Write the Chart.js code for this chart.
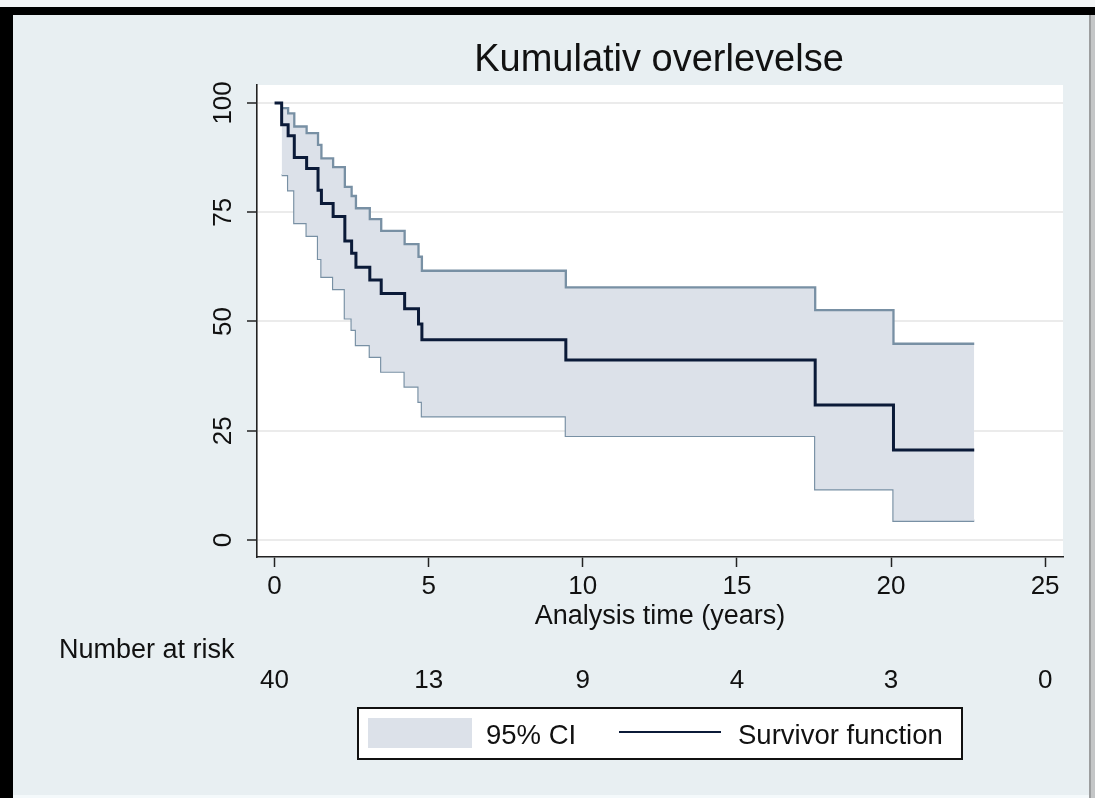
<!DOCTYPE html>
<html>
<head>
<meta charset="utf-8">
<script src="https://cdn.jsdelivr.net/npm/chart.js@4.4.1/dist/chart.umd.min.js"></script>
<style>
  html, body { margin: 0; padding: 0; background: #e8eff2; }
  #wrap { position: relative; width: 1095px; height: 798px; }
</style>
</head>
<body>
<div id="wrap"><canvas id="c" width="1095" height="798"></canvas></div>
<script>
// ---- data ----
const titleText = 'Kumulativ overlevelse';
const xTitle = 'Analysis time (years)';
const riskLabel = 'Number at risk';

const survTime  = [0, 0.23, 0.44, 0.64, 1.04, 1.41, 1.52, 1.90, 2.28, 2.50, 2.64, 3.09, 3.46, 4.22, 4.67, 4.78, 9.45, 17.54, 20.08, 22.70];
const survValue = [100, 95.0, 92.5, 87.5, 85.0, 80.0, 77.0, 74.0, 68.4, 65.6, 62.4, 59.5, 56.4, 52.9, 49.4, 45.8, 41.2, 30.9, 20.6, 20.6];

const ciTime  = [0.23, 0.44, 0.64, 1.04, 1.41, 1.52, 1.90, 2.28, 2.50, 2.64, 3.09, 3.46, 4.22, 4.67, 4.78, 9.45, 17.54, 20.08, 22.70];
const ciUpper = [98.8, 97.6, 94.6, 93.1, 90.4, 87.3, 85.3, 80.8, 78.7, 75.9, 73.4, 70.7, 67.7, 64.8, 61.6, 57.8, 52.6, 44.9, 44.9];
const ciLower = [83.5, 80.0, 72.5, 69.6, 64.3, 60.2, 57.4, 50.7, 48.1, 44.6, 41.9, 38.5, 35.1, 31.6, 28.3, 23.8, 11.6, 4.4, 4.4];

const xTicks = [0, 5, 10, 15, 20, 25];
const yTicks = [0, 25, 50, 75, 100];
const riskTimes  = [0, 5, 10, 15, 20, 25];
const riskCounts = [40, 13, 9, 4, 3, 0];

// ---- styles ----
const FONT = "'Liberation Sans', Arial, Helvetica, sans-serif";
const TEXT = '#111111';
const BG = '#e8eff2';
const CI_FILL = '#dce1e9';
const CI_LINE = '#7890a4';
const SURV_LINE = '#0b1a38';
const AXIS = '#222222';

const toXY = (xs, ys) => xs.map((x, i) => ({ x: x, y: ys[i] }));

const decorPlugin = {
  id: 'decor',
  beforeDraw(chart) {
    const ctx = chart.ctx, a = chart.chartArea;
    const W = chart.width, H = chart.height;
    ctx.save();
    ctx.fillStyle = BG; ctx.fillRect(0, 0, W, H);
    ctx.fillStyle = '#ffffff'; ctx.fillRect(a.left, a.top, a.right - a.left, a.bottom - a.top);
    // frame bands of the screenshot
    ctx.fillStyle = '#f3f5f6'; ctx.fillRect(0, 0, W, 7);
    ctx.fillStyle = '#000000'; ctx.fillRect(0, 7, W, 8);
    ctx.fillStyle = '#000000'; ctx.fillRect(0, 7, 13, H - 7);
    ctx.fillStyle = '#c4c6c7'; ctx.fillRect(1089, 15, W - 1089, H - 15);
    ctx.fillStyle = '#9c9e9f'; ctx.fillRect(1089, 15, 2, H - 15);
    ctx.fillStyle = '#f4f9fb'; ctx.fillRect(13, 795, 1076, 3);
    ctx.restore();
  },
  afterDraw(chart) {
    const ctx = chart.ctx, a = chart.chartArea;
    const xs = chart.scales.x;
    ctx.save();
    ctx.fillStyle = TEXT;
    ctx.textBaseline = 'alphabetic';
    // title
    ctx.font = '38px ' + FONT;
    ctx.textAlign = 'center';
    ctx.fillText(titleText, (a.left + a.right) / 2 - 1, 71);
    // number at risk
    ctx.font = '27px ' + FONT;
    ctx.textAlign = 'left';
    ctx.fillText(riskLabel, 59, 658);
    ctx.font = '26px ' + FONT;
    ctx.textAlign = 'center';
    riskTimes.forEach((t, i) => ctx.fillText(String(riskCounts[i]), xs.getPixelForValue(t), 688));
    // legend
    const ds = chart.data.datasets;
    ctx.fillStyle = '#ffffff';
    ctx.fillRect(358, 708, 604, 51);
    ctx.strokeStyle = '#111111'; ctx.lineWidth = 2;
    ctx.strokeRect(358, 708, 604, 51);
    ctx.fillStyle = CI_FILL;
    ctx.fillRect(368, 718, 104, 30);
    ctx.fillStyle = TEXT;
    ctx.font = '27.5px ' + FONT;
    ctx.textAlign = 'left';
    ctx.fillText(ds[1].label, 486, 744);
    ctx.strokeStyle = SURV_LINE; ctx.lineWidth = 2;
    ctx.beginPath(); ctx.moveTo(619, 732); ctx.lineTo(721, 732); ctx.stroke();
    ctx.fillText(ds[0].label, 738, 744);
    ctx.restore();
  }
};

new Chart(document.getElementById('c'), {
  type: 'line',
  data: {
    datasets: [
      { label: 'Survivor function', data: toXY(survTime, survValue), borderColor: SURV_LINE, borderWidth: 3,
        stepped: true, pointRadius: 0, fill: false },
      { label: '95% CI', data: toXY(ciTime, ciUpper), borderColor: CI_LINE, borderWidth: 2.3,
        stepped: true, pointRadius: 0, fill: { target: '+1' }, backgroundColor: CI_FILL },
      { label: '95% CI lower', data: toXY(ciTime, ciLower), borderColor: CI_LINE, borderWidth: 2.3,
        stepped: true, pointRadius: 0, fill: false }
    ]
  },
  options: {
    responsive: false,
    animation: false,
    events: [],
    layout: { padding: { top: 85, right: 32, bottom: 0, left: 0 } },
    plugins: { legend: { display: false }, title: { display: false }, tooltip: { enabled: false } },
    scales: {
      x: {
        type: 'linear', min: -0.57, max: 25.58,
        afterBuildTicks: s => { s.ticks = xTicks.map(v => ({ value: v })); },
        afterFit: s => { s.height = 241; },
        ticks: { font: { size: 26, family: FONT }, color: TEXT, padding: 4, maxRotation: 0, minRotation: 0 },
        grid: { drawOnChartArea: false, drawTicks: true, tickLength: 10, tickColor: AXIS, tickWidth: 1.5 },
        border: { display: true, color: AXIS, width: 1.6 },
        title: { display: true, text: xTitle, color: TEXT, font: { size: 27, family: FONT }, padding: { top: 0, bottom: 165 } }
      },
      y: {
        type: 'linear', min: -3.9, max: 104.1,
        afterBuildTicks: s => { s.ticks = yTicks.map(v => ({ value: v })); },
        afterFit: s => { s.width = 257; },
        ticks: { font: { size: 26, family: FONT }, color: TEXT, padding: 1, minRotation: 90, maxRotation: 90, crossAlign: 'center' },
        grid: { drawOnChartArea: true, color: '#ebebeb', lineWidth: 2, drawTicks: true, tickLength: 10, tickColor: AXIS, tickWidth: 1.5 },
        border: { display: true, color: AXIS, width: 1.6 }
      }
    }
  },
  plugins: [decorPlugin]
});
</script>
</body>
</html>
